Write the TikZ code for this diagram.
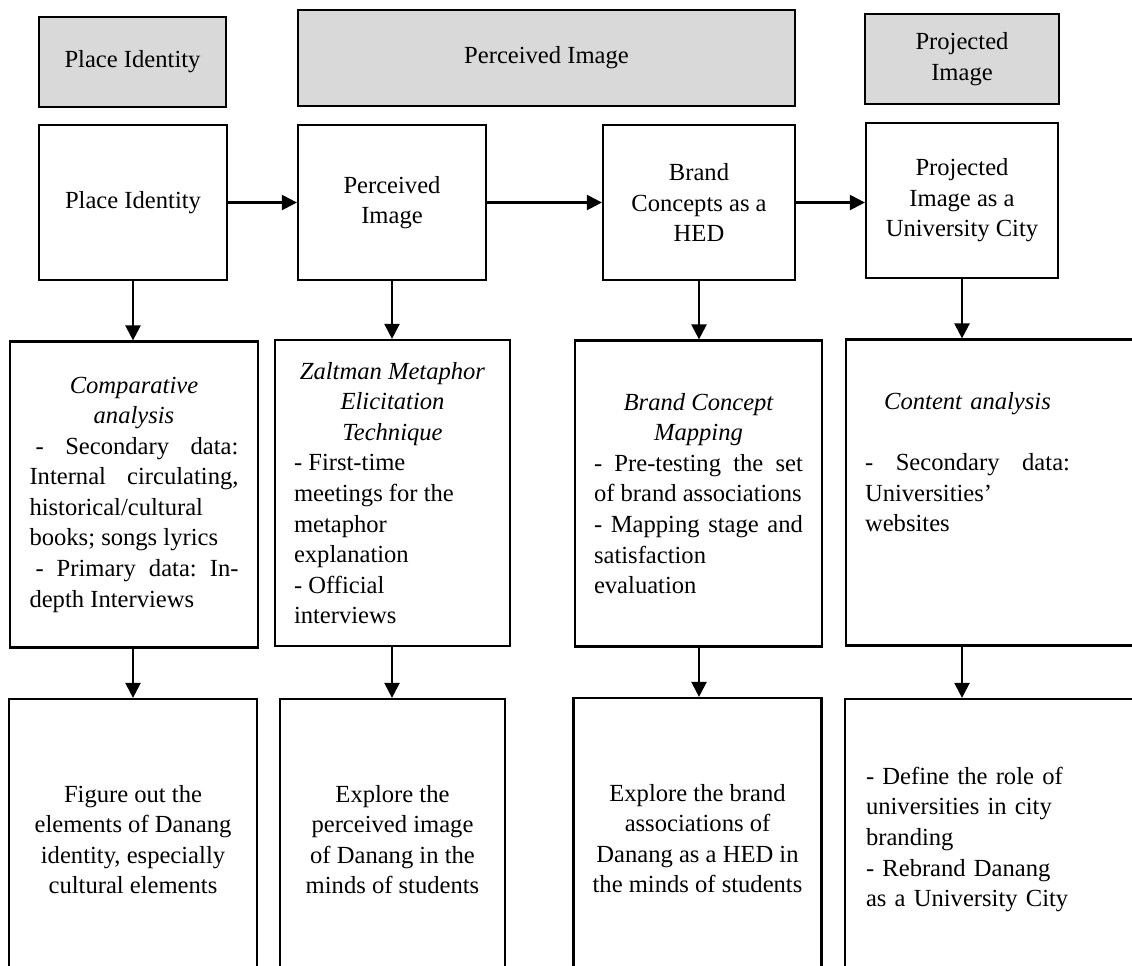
\documentclass[tikz,border=0pt]{standalone}
\usepackage{fontspec}
\setmainfont{Liberation Serif}
\usepackage{tikz}
\usetikzlibrary{arrows.meta,positioning}

\definecolor{headgray}{HTML}{D9D9D9}
\newcommand{\diagfont}{\fontsize{14pt}{17.4pt}\selectfont}
% justified line and italic title line inside a method box
\newcommand{\jline}[2][4.18cm]{\makebox[#1][s]{#2}}
\newcommand{\mtitle}[2][4.18cm]{\makebox[#1][c]{\itshape #2}}

\begin{document}
\begin{tikzpicture}[
  x=0.02cm,y=-0.02cm,
  >={Triangle[length=3mm,width=3mm]},
  head/.style={draw,fill=headgray,line width=1.3pt,align=center,font=\diagfont},
  stage/.style={draw,line width=1.3pt,align=center,font=\diagfont,minimum height=3.1cm},
  method/.style={draw,line width=1.3pt,align=left,inner xsep=0.38cm,font=\diagfont,minimum height=6.12cm},
  aim/.style={draw,line width=1.3pt,align=center,inner xsep=0.38cm,font=\diagfont,minimum height=5.62cm},
  link/.style={->,line width=1.3pt}
]
\useasboundingbox (0,0) rectangle (1132,965);
\clip (0,0) rectangle (1132,965);

% headings
\node[head,minimum width=3.74cm,minimum height=1.8cm] (hA) at (132.5,62) {Place Identity};
\node[head,minimum width=9.94cm,minimum height=1.92cm] (hB) at (546.5,58) {Perceived Image};
\node[head,minimum width=3.88cm,minimum height=1.8cm] (hC) at (962,59) {Projected\\Image};

% stages
\node[stage,minimum width=3.76cm] (pA) at (133,202.5) {Place Identity};
\node[stage,minimum width=3.76cm] (pB) at (392,202.5) {Perceived\\Image};
\node[stage,minimum width=3.84cm] (pC) at (699,202.5) {Brand\\Concepts as a\\HED};
\node[stage,minimum width=3.84cm] (pD) at (962,200.5) {Projected\\Image as a\\University City};

% methods
\node[method,minimum width=4.96cm] (mA) at (134,494.5) {%
  \mtitle{Comparative}\\
  \mtitle{analysis}\\
  \jline{\kern0.12cm-\hfill Secondary\hfill data:}\\
  \jline{Internal\hfill circulating,}\\
  historical/cultural\\
  books; songs lyrics\\
  \jline{\kern0.12cm-\hfill Primary\hfill data:\hfill In-}\\
  depth Interviews};
\node[method,minimum width=4.7cm] (mB) at (392.5,493) {%
  \mtitle[3.94cm]{Zaltman Metaphor}\\
  \mtitle[3.94cm]{Elicitation}\\
  \mtitle[3.94cm]{Technique}\\
  - First-time\\
  meetings for the\\
  metaphor\\
  explanation\\
  - Official\\
  interviews};
\node[method,minimum width=4.94cm] (mC) at (698.5,493.5) {%
  \mtitle{Brand Concept}\\
  \mtitle{Mapping}\\
  \jline{-\hfill Pre-testing\hfill the\hfill set}\\
  of brand associations\\
  \jline{-\hfill Mapping\hfill stage\hfill and}\\
  satisfaction\\
  evaluation};
\node[method,text width=6.32cm] (mD) at (1023,492.5) {%
  \mtitle[4.1cm]{Content analysis}\\
  \mbox{}\\
  \jline[4.1cm]{-\hfill Secondary\hfill data:}\\
  Universities'\\
  websites\\
  \mbox{}\\
  \mbox{}};

% aims
\node[aim,minimum width=4.96cm] (gA) at (133,839.5) {Figure out the\\elements of Danang\\identity, especially\\cultural elements};
\node[aim,minimum width=4.5cm] (gB) at (392.5,839.5) {Explore the\\perceived image\\of Danang in the\\minds of students};
\node[aim,minimum width=4.94cm] (gC) at (697.5,838.5) {Explore the brand\\associations of\\Danang as a HED in\\the minds of students};
\node[aim,align=left,inner xsep=0.42cm,text width=6.26cm] (gD) at (1022.5,839.5) {- Define the role of\\universities in city\\branding\\- Rebrand Danang\\as a University City};

\foreach \a/\bb in {pA/pB,pB/pC,pC/pD}
  \draw[link] (\a.east) -- (\a.east -| \bb.west);
\foreach \c in {A,B,C,D} {
  \draw[link] (p\c.south) -- (p\c.south |- m\c.north);
  \draw[link] (p\c.south |- m\c.south) -- (p\c.south |- g\c.north);
}
\end{tikzpicture}
\end{document}
